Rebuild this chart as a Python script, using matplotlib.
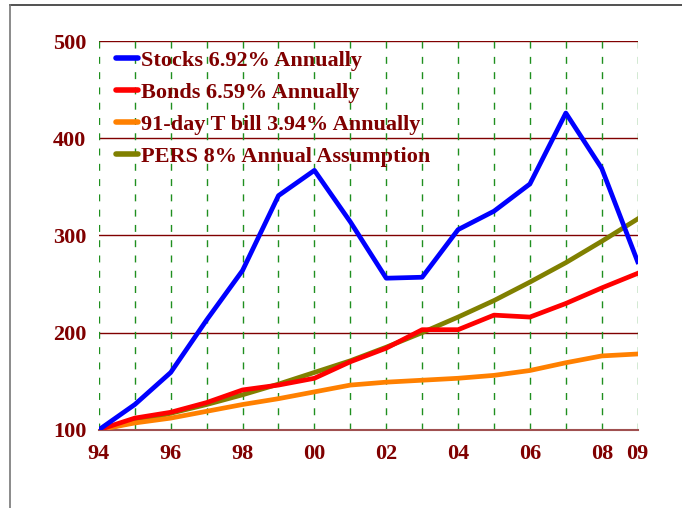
import matplotlib.pyplot as plt
from matplotlib.lines import Line2D

years = list(range(1994, 2010))
tick_years = [1994, 1996, 1998, 2000, 2002, 2004, 2006, 2008, 2009]
tick_labels = ["94", "96", "98", "00", "02", "04", "06", "08", "09"]

stocks = [100, 126, 159, 213, 264, 341, 367, 314, 256, 257, 306, 325, 353, 426, 369, 273]
bonds = [100, 112, 118, 128, 141, 146, 153, 170, 184, 203, 203, 218, 216, 230, 246, 261]
tbill = [100, 107, 112, 119, 126, 132, 139, 146, 149, 151, 153, 156, 161, 169, 176, 178]
pers = [100, 108, 117, 126, 136, 147, 159, 171, 185, 200, 216, 233, 252, 272, 294, 317]

dark_red = "#800000"

plt.rcParams['font.family'] = ['Liberation Serif', 'DejaVu Serif']

fig = plt.figure(figsize=(6.82, 5.08), dpi=100)
ax = fig.add_axes([0.145, 0.154, 0.79, 0.765])

# grid
for y in [200, 300, 400, 500]:
    ax.axhline(y, color=dark_red, lw=1, zorder=1)
for yr in years:
    ax.axvline(yr, color="#1f8f1f", lw=1, linestyle=(0, (5, 6)), zorder=1)

ax.plot(years, pers, color="#808000", lw=3.4, zorder=3)
ax.plot(years, tbill, color="#ff8000", lw=3.4, zorder=4)
ax.plot(years, bonds, color="#ff0000", lw=3.4, zorder=5)
ax.plot(years, stocks, color="#0000ff", lw=3.4, zorder=6)

ax.set_xlim(1994, 2009)
ax.set_ylim(100, 500)
for s in ["top", "right", "left"]:
    ax.spines[s].set_visible(False)
ax.spines["bottom"].set_color("#a05050")
ax.spines["bottom"].set_linewidth(1.5)

ax.set_xticks(tick_years)
ax.set_xticklabels(tick_labels)
ax.set_yticks([100, 200, 300, 400, 500])
ax.tick_params(length=0, labelsize=16, colors=dark_red)
ax.tick_params(axis="x", pad=10)
ax.tick_params(axis="y", pad=9)
for lbl in ax.get_xticklabels() + ax.get_yticklabels():
    lbl.set_fontweight("bold")

handles = [
    Line2D([], [], color="#0000ff", lw=4, solid_capstyle="round"),
    Line2D([], [], color="#ff0000", lw=4, solid_capstyle="round"),
    Line2D([], [], color="#ff8000", lw=4, solid_capstyle="round"),
    Line2D([], [], color="#808000", lw=4, solid_capstyle="round"),
]
labels = ["Stocks 6.92% Annually", "Bonds 6.59% Annually",
          "91-day T bill 3.94% Annually", "PERS 8% Annual Assumption"]
leg = ax.legend(handles, labels, loc="upper left", bbox_to_anchor=(0.015, 1.0),
                frameon=False, handlelength=1.0, handletextpad=0.15,
                labelspacing=0.52, borderaxespad=0.0,
                prop={"weight": "bold", "size": 16})
for t in leg.get_texts():
    t.set_color(dark_red)

# slide frame
fig.add_artist(Line2D([0.015, 1.0], [0.99, 0.99], color="#333333", lw=1.2))
fig.add_artist(Line2D([0.015, 0.015], [0.0, 0.99], color="#777777", lw=1.2))

fig.savefig("out.png", dpi=100)
